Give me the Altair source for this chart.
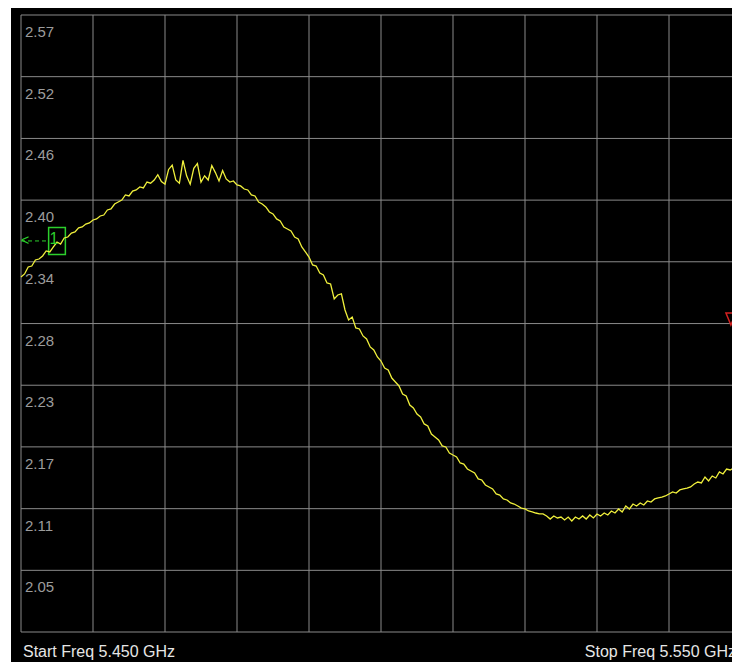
import altair as alt
import pandas as pd

# ---- sweep definition (from the footer texts) ----
start_ghz = 5.450
stop_ghz = 5.550
n_points = 201
freq_ghz = [round(start_ghz + (stop_ghz - start_ghz) * i / (n_points - 1), 4) for i in range(n_points)]

# ---- trace values ----
trace = [
    2.3273, 2.3302, 2.3368, 2.3377, 2.3434, 2.3443, 2.3472, 2.3519, 2.3510, 2.3557,
    2.3604, 2.3585, 2.3642, 2.3651, 2.3689, 2.3699, 2.3737, 2.3746, 2.3774, 2.3784,
    2.3812, 2.3822, 2.3850, 2.3859, 2.3907, 2.3916, 2.3963, 2.3982, 2.4001, 2.4049,
    2.4039, 2.4086, 2.4096, 2.4124, 2.4115, 2.4171, 2.4160, 2.4190, 2.4240, 2.4175,
    2.4150, 2.4290, 2.4330, 2.4190, 2.4160, 2.4375, 2.4230, 2.4150, 2.4300, 2.4345,
    2.4170, 2.4230, 2.4190, 2.4327, 2.4260, 2.4181, 2.4280, 2.4200, 2.4171, 2.4181,
    2.4143, 2.4134, 2.4105, 2.4096, 2.4049, 2.4039, 2.3982, 2.3963, 2.3935, 2.3888,
    2.3869, 2.3822, 2.3803, 2.3746, 2.3727, 2.3708, 2.3651, 2.3633, 2.3557, 2.3510,
    2.3462, 2.3387, 2.3377, 2.3311, 2.3292, 2.3217, 2.3207, 2.3065, 2.3103, 2.3113,
    2.2961, 2.2867, 2.2895, 2.2791, 2.2782, 2.2716, 2.2687, 2.2612, 2.2583, 2.2517,
    2.2479, 2.2413, 2.2394, 2.2318, 2.2281, 2.2243, 2.2167, 2.2148, 2.2063, 2.2035,
    2.1978, 2.1950, 2.1884, 2.1865, 2.1789, 2.1761, 2.1732, 2.1676, 2.1666, 2.1609,
    2.1590, 2.1572, 2.1515, 2.1505, 2.1458, 2.1439, 2.1420, 2.1364, 2.1354, 2.1307,
    2.1288, 2.1269, 2.1222, 2.1212, 2.1175, 2.1165, 2.1137, 2.1127, 2.1108, 2.1089,
    2.1080, 2.1061, 2.1052, 2.1042, 2.1033, 2.1033, 2.1014, 2.0985, 2.1014, 2.0995,
    2.1004, 2.0976, 2.1004, 2.0967, 2.1004, 2.0985, 2.1014, 2.0985, 2.1023, 2.0995,
    2.1033, 2.1014, 2.1042, 2.1023, 2.1061, 2.1042, 2.1080, 2.1052, 2.1108, 2.1080,
    2.1127, 2.1108, 2.1137, 2.1118, 2.1156, 2.1146, 2.1175, 2.1184, 2.1193, 2.1203,
    2.1222, 2.1241, 2.1231, 2.1260, 2.1269, 2.1278, 2.1288, 2.1316, 2.1335, 2.1326,
    2.1382, 2.1345, 2.1392, 2.1373, 2.1430, 2.1411, 2.1458, 2.1449, 2.1468, 2.1458,
    2.1477,
]

# ---- graticule ----
vgrid_freq = [5.450, 5.460, 5.470, 5.480, 5.490, 5.500, 5.510, 5.520, 5.530, 5.540, 5.550]
hgrid_val = [2.575, 2.5167, 2.4583, 2.4000, 2.3417, 2.2833, 2.2250, 2.1667, 2.1083, 2.0500, 1.9917]
y_labels = ["2.57", "2.52", "2.46", "2.40", "2.34", "2.28", "2.23", "2.17", "2.11", "2.05"]

# ---- marker / reference ----
marker_freq = [5.455]
marker_val = [2.3614]
marker_label = ["1"]
ref_freq = [5.5486]
ref_val = [2.2876]

footer_left = "Start Freq 5.450 GHz"
footer_right = "Stop Freq 5.550 GHz"

GRID = "#8a8a8a"
TRACE = "#f0f03c"
GREEN = "#2ccf2c"
RED = "#d42020"

xs = alt.Scale(domain=[start_ghz, stop_ghz], range=[10, 730])
ys = alt.Scale(domain=[hgrid_val[-1], hgrid_val[0]], range=[624, 7])

df_trace = pd.DataFrame({"f": freq_ghz, "v": trace})
df_h = pd.DataFrame({"v": hgrid_val, "f0": start_ghz, "f1": stop_ghz})
df_v = pd.DataFrame({"f": vgrid_freq, "v0": hgrid_val[-1], "v1": hgrid_val[0]})
df_lab = pd.DataFrame({"v": hgrid_val[:10], "t": y_labels, "f": start_ghz})
df_mk = pd.DataFrame({"f": marker_freq, "v": marker_val, "t": marker_label, "f0": start_ghz})
df_ref = pd.DataFrame({"f": ref_freq, "v": ref_val})
df_foot = pd.DataFrame({"f": [start_ghz, stop_ghz], "t": [footer_left, footer_right],
                        "side": ["l", "r"]})

X = lambda field: alt.X(field, type="quantitative", scale=xs, axis=None)
Y = lambda field: alt.Y(field, type="quantitative", scale=ys, axis=None)

hgrid = alt.Chart(df_h).mark_rule(color=GRID, strokeWidth=1, clip=True).encode(
    y=Y("v"), x=X("f0"), x2="f1")
vgrid = alt.Chart(df_v).mark_rule(color=GRID, strokeWidth=1, clip=True).encode(
    x=X("f"), y=Y("v0"), y2="v1")

labels = alt.Chart(df_lab).mark_text(
    align="left", baseline="alphabetic", dx=4, dy=22, font="Liberation Sans",
    fontSize=15, color="#9c9c9c").encode(x=X("f"), y=Y("v"), text="t")

mk_rule = alt.Chart(df_mk).mark_rule(color=GREEN, strokeWidth=1, strokeDash=[4, 3]).encode(
    x=X("f0"), x2="f", y=Y("v"))
mk_arrow = alt.Chart(df_mk).mark_text(
    text="<", align="left", baseline="middle", dx=0, dy=0, font="Liberation Sans",
    fontSize=14, color=GREEN).encode(x=X("f0"), y=Y("v"))
mk_box = alt.Chart(df_mk).mark_point(
    shape="M-0.62,-1L0.62,-1L0.62,1L-0.62,1Z", size=27 * 27, filled=True,
    fill="black", stroke=GREEN, strokeWidth=1.5, opacity=1).encode(x=X("f"), y=Y("v"))

line = alt.Chart(df_trace).mark_line(color=TRACE, strokeWidth=1.3, clip=True).encode(
    x=X("f"), y=Y("v"))

mk_text = alt.Chart(df_mk).mark_text(
    align="center", baseline="middle", dx=-3, dy=-2, font="Liberation Sans",
    fontSize=16, color=GREEN).encode(x=X("f"), y=Y("v"), text="t")

ref = alt.Chart(df_ref).mark_point(
    shape="M-0.83,-1L0.83,-1L0,1Z", size=144, filled=False, stroke=RED,
    strokeWidth=1.5, opacity=1, clip=True).encode(x=X("f"), y=Y("v"))

foot_l = alt.Chart(df_foot).transform_filter(alt.datum.side == "l").mark_text(
    align="left", baseline="alphabetic", dx=2, font="Liberation Sans", fontSize=16,
    color="#e6e6e6").encode(x=X("f"), y=alt.value(649), text="t")
foot_r = alt.Chart(df_foot).transform_filter(alt.datum.side == "r").mark_text(
    align="right", baseline="alphabetic", dx=-5, font="Liberation Sans", fontSize=16,
    color="#e6e6e6", clip=True).encode(x=X("f"), y=alt.value(649), text="t")

chart = alt.layer(
    hgrid, vgrid, labels, mk_rule, mk_box, line, mk_arrow, mk_text, ref, foot_l, foot_r
).properties(
    width=721, height=654,
    padding={"left": 11, "top": 8, "right": 0, "bottom": 0},
    background="white",
).configure_view(
    fill="black", stroke="black", strokeWidth=0
)

chart.save("out.html", embed_options={"renderer": "svg", "actions": False})
